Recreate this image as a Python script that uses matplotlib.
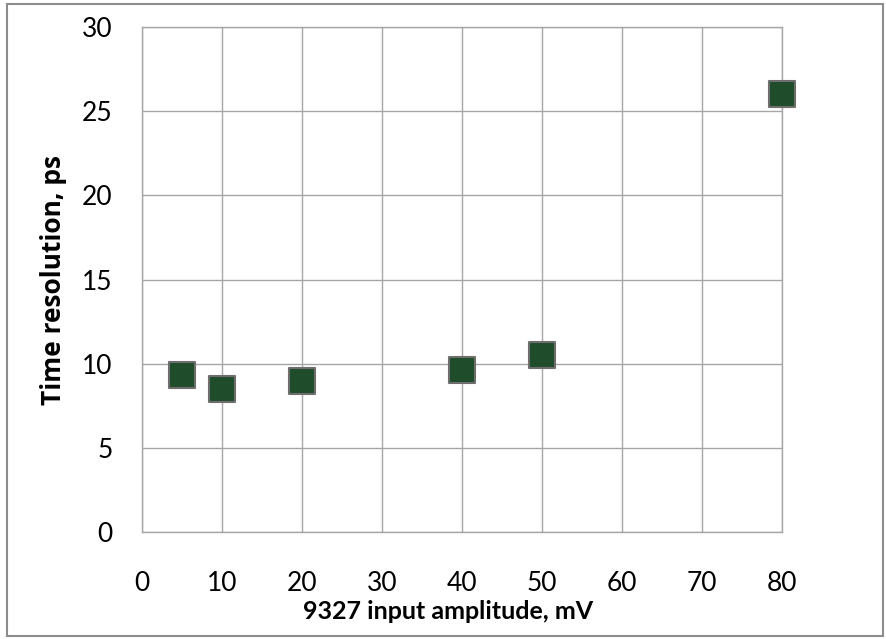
import matplotlib
matplotlib.use("Agg")
import matplotlib.pyplot as plt
from matplotlib.patches import Rectangle

plt.rcParams.update({
    "font.family": ["Lato", "DejaVu Sans"],
    "font.size": 16,
})

# measured time resolution vs. input amplitude
amplitude_mv = [5, 10, 20, 40, 50, 80]
resolution_ps = [9.3, 8.5, 9.0, 9.6, 10.5, 26.0]

x_ticks = [0, 10, 20, 30, 40, 50, 60, 70, 80]
y_ticks = [0, 5, 10, 15, 20, 25, 30]

GRID = "#a6a6a6"
FACE = "#1f4d2b"
EDGE = "#6e6e6e"

fig = plt.figure(figsize=(8.86, 6.39), dpi=100)
ax = fig.add_axes([0.1603, 0.1674, 0.7223, 0.7903])

ax.scatter(amplitude_mv, resolution_ps, marker="s", s=330,
           facecolor=FACE, edgecolor=EDGE, linewidths=1.5,
           zorder=3, clip_on=False)

ax.set_xlim(0, 80)
ax.set_ylim(0, 30)
ax.set_xticks(x_ticks)
ax.set_yticks(y_ticks)
ax.grid(True, color=GRID, lw=1.0)
ax.set_axisbelow(True)
for sp in ax.spines.values():
    sp.set_color(GRID)
    sp.set_linewidth(1.0)
ax.tick_params(length=0, labelsize=19, colors="black")
ax.tick_params(axis="x", pad=28)
ax.tick_params(axis="y", pad=21)

ax.set_xlabel("9327 input amplitude, mV", fontsize=18, fontweight="bold",
              labelpad=3)
ax.xaxis.label.set_x(0.478)
ax.set_ylabel("Time resolution, ps", fontsize=19, fontweight="bold",
              family=["Open Sans", "DejaVu Sans"], labelpad=11)

# outer chart frame
fig.patches.append(Rectangle((0.008, 0.005), 0.989, 0.988,
                             transform=fig.transFigure, fill=False,
                             edgecolor="#8c8c8c", lw=1.5))

fig.savefig("out.png", dpi=100)
